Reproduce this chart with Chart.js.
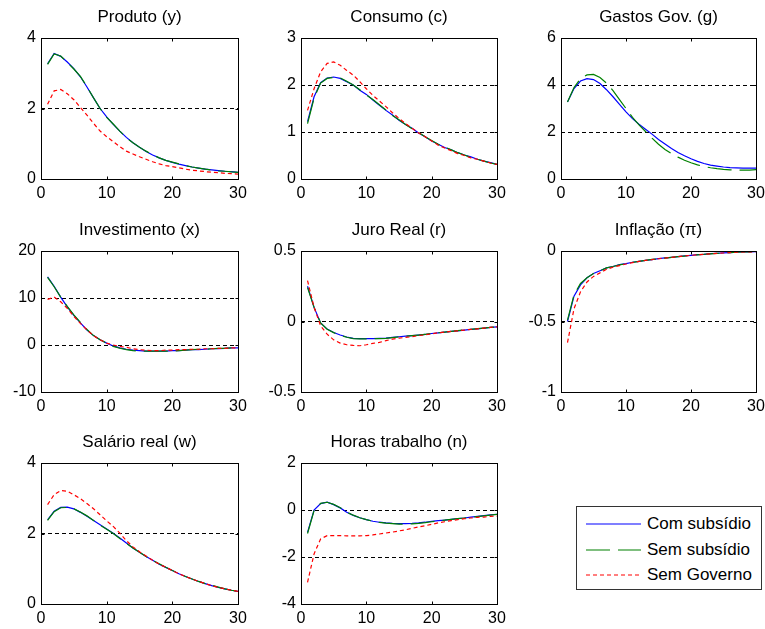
<!DOCTYPE html>
<html>
<head>
<meta charset="utf-8">
<script src="https://cdn.jsdelivr.net/npm/chart.js@4.4.1/dist/chart.umd.min.js"></script>
<style>
  body { margin: 0; background: #fff; width: 765px; height: 629px; position: relative; overflow: hidden;
         font-family: "Liberation Sans", Arial, sans-serif; }
  canvas { position: absolute; }
  #legend { position: absolute; left: 576px; top: 506px; width: 186px; height: 84px;
            border: 1px solid #333; box-sizing: border-box; background: #fff; }
  #legend .row { position: absolute; left: 9px; height: 22px; display: flex; align-items: center;
                 font-size: 17px; color: #000; white-space: nowrap; }
  #legend svg { margin-right: 6px; }
</style>
</head>
<body>
<div id="legend"></div>
<script>
// horizonte (trimestres)
const periods = [1,2,3,4,5,6,7,8,9,10,11,12,13,14,15,16,17,18,19,20,21,22,23,24,25,26,27,28,29,30];

const seriesNames = ["Com subsídio", "Sem subsídio", "Sem Governo"];

// Produto (y)
const produtoCom = [3.27,3.56,3.48,3.32,3.13,2.90,2.61,2.30,2.00,1.76,1.55,1.36,1.18,1.03,0.90,0.78,0.68,0.60,0.53,0.47,0.42,0.38,0.34,0.31,0.28,0.26,0.24,0.22,0.21,0.19];
const produtoSem = [3.25,3.55,3.49,3.31,3.12,2.91,2.62,2.30,2.00,1.75,1.56,1.36,1.17,1.03,0.90,0.79,0.69,0.60,0.53,0.48,0.43,0.38,0.34,0.31,0.28,0.25,0.23,0.22,0.20,0.19];
const produtoSemGov = [2.12,2.50,2.54,2.42,2.25,2.03,1.81,1.58,1.36,1.20,1.06,0.92,0.79,0.71,0.63,0.56,0.49,0.43,0.38,0.35,0.32,0.28,0.25,0.23,0.21,0.19,0.18,0.16,0.15,0.14];

// Consumo (c)
const consumoCom = [1.22,1.75,2.05,2.15,2.17,2.14,2.07,2.00,1.89,1.80,1.68,1.57,1.46,1.36,1.25,1.16,1.08,0.98,0.90,0.81,0.74,0.67,0.62,0.56,0.51,0.47,0.42,0.38,0.35,0.31];
const consumoSem = [1.18,1.72,2.04,2.14,2.16,2.15,2.08,2.00,1.90,1.79,1.69,1.58,1.47,1.35,1.26,1.16,1.07,0.99,0.90,0.82,0.74,0.68,0.62,0.56,0.51,0.46,0.42,0.38,0.34,0.31];
const consumoSemGov = [1.46,1.92,2.28,2.46,2.49,2.42,2.31,2.21,2.07,1.92,1.78,1.66,1.54,1.41,1.29,1.18,1.08,0.98,0.90,0.81,0.72,0.66,0.60,0.54,0.50,0.45,0.42,0.38,0.34,0.31];

// Gastos Gov. (g) - sem governo não há gasto
const gastosCom = [3.28,3.85,4.17,4.27,4.23,4.06,3.80,3.50,3.18,2.86,2.57,2.33,2.12,1.91,1.68,1.49,1.30,1.13,0.99,0.86,0.75,0.66,0.59,0.55,0.51,0.48,0.47,0.46,0.46,0.46];
const gastosSem = [3.28,3.89,4.27,4.43,4.45,4.32,4.08,3.76,3.38,3.00,2.62,2.30,2.02,1.74,1.48,1.26,1.08,0.93,0.80,0.69,0.60,0.53,0.48,0.44,0.41,0.39,0.38,0.38,0.38,0.40];

// Investimento (x)
const investCom = [14.5,12.5,10.2,8.1,6.3,4.7,3.2,2.0,1.1,0.4,-0.2,-0.6,-0.9,-1.1,-1.2,-1.3,-1.3,-1.3,-1.3,-1.2,-1.2,-1.1,-1.0,-1.0,-0.9,-0.8,-0.8,-0.7,-0.6,-0.6];
const investSem = [14.4,12.4,10.2,8.2,6.4,4.8,3.3,2.0,1.1,0.4,-0.3,-0.7,-1.0,-1.2,-1.3,-1.3,-1.3,-1.3,-1.3,-1.3,-1.2,-1.1,-1.0,-0.9,-0.9,-0.8,-0.7,-0.7,-0.6,-0.6];
const investSemGov = [9.7,10.2,9.2,7.8,6.1,4.6,3.2,2.0,1.1,0.4,0.0,-0.3,-0.5,-0.8,-1.0,-1.1,-1.2,-1.2,-1.1,-1.1,-1.0,-1.0,-0.9,-0.9,-0.8,-0.8,-0.7,-0.7,-0.6,-0.6];

// Juro Real (r)
const juroCom = [0.25,0.10,-0.01,-0.054,-0.078,-0.096,-0.11,-0.12,-0.122,-0.122,-0.122,-0.12,-0.118,-0.113,-0.108,-0.104,-0.10,-0.096,-0.092,-0.085,-0.08,-0.075,-0.07,-0.066,-0.061,-0.056,-0.052,-0.047,-0.042,-0.038];
const juroSem = [0.24,0.10,-0.01,-0.055,-0.079,-0.097,-0.112,-0.121,-0.123,-0.123,-0.122,-0.121,-0.119,-0.114,-0.109,-0.104,-0.10,-0.096,-0.091,-0.085,-0.08,-0.075,-0.07,-0.065,-0.06,-0.056,-0.051,-0.047,-0.042,-0.038];
const juroSemGov = [0.29,0.10,-0.03,-0.09,-0.13,-0.153,-0.165,-0.17,-0.172,-0.165,-0.155,-0.148,-0.136,-0.125,-0.118,-0.113,-0.108,-0.10,-0.094,-0.087,-0.08,-0.075,-0.07,-0.066,-0.061,-0.056,-0.052,-0.047,-0.042,-0.038];

// Inflação (pi)
const inflCom = [-0.50,-0.32,-0.24,-0.19,-0.16,-0.14,-0.12,-0.11,-0.097,-0.09,-0.08,-0.073,-0.066,-0.061,-0.054,-0.049,-0.045,-0.04,-0.035,-0.031,-0.026,-0.024,-0.019,-0.016,-0.014,-0.012,-0.009,-0.007,-0.007,-0.005];
const inflSem = [-0.49,-0.31,-0.23,-0.19,-0.16,-0.14,-0.12,-0.11,-0.098,-0.09,-0.081,-0.073,-0.067,-0.06,-0.055,-0.05,-0.045,-0.04,-0.036,-0.031,-0.027,-0.023,-0.02,-0.017,-0.014,-0.011,-0.009,-0.007,-0.006,-0.005];
const inflSemGov = [-0.65,-0.41,-0.29,-0.22,-0.18,-0.155,-0.13,-0.115,-0.104,-0.092,-0.082,-0.074,-0.067,-0.061,-0.055,-0.05,-0.045,-0.04,-0.035,-0.031,-0.027,-0.024,-0.02,-0.017,-0.014,-0.011,-0.009,-0.007,-0.006,-0.005];

// Salário real (w)
const salarioCom = [2.39,2.63,2.74,2.75,2.70,2.60,2.49,2.37,2.25,2.13,2.01,1.87,1.73,1.59,1.47,1.35,1.24,1.13,1.04,0.95,0.86,0.78,0.71,0.64,0.58,0.52,0.47,0.43,0.39,0.36];
const salarioSem = [2.37,2.62,2.73,2.74,2.70,2.61,2.50,2.37,2.24,2.12,2.00,1.86,1.72,1.59,1.47,1.35,1.24,1.14,1.04,0.95,0.87,0.78,0.71,0.64,0.58,0.53,0.48,0.43,0.39,0.36];
const salarioSemGov = [2.82,3.10,3.22,3.20,3.10,2.99,2.85,2.70,2.53,2.36,2.20,2.01,1.80,1.62,1.48,1.36,1.24,1.13,1.04,0.95,0.86,0.78,0.71,0.64,0.58,0.52,0.47,0.43,0.39,0.36];

// Horas trabalho (n)
const horasCom = [-0.95,0.0,0.27,0.33,0.23,0.09,-0.10,-0.23,-0.33,-0.41,-0.48,-0.52,-0.55,-0.57,-0.58,-0.58,-0.57,-0.55,-0.52,-0.48,-0.45,-0.43,-0.40,-0.37,-0.34,-0.30,-0.27,-0.24,-0.21,-0.18];
const horasSem = [-1.0,-0.02,0.28,0.33,0.24,0.10,-0.09,-0.22,-0.33,-0.41,-0.48,-0.53,-0.56,-0.58,-0.60,-0.60,-0.59,-0.57,-0.54,-0.50,-0.46,-0.43,-0.40,-0.37,-0.34,-0.31,-0.28,-0.25,-0.22,-0.19];
const horasSemGov = [-3.08,-1.87,-1.23,-1.09,-1.09,-1.09,-1.10,-1.10,-1.10,-1.09,-1.06,-1.02,-0.98,-0.94,-0.89,-0.84,-0.78,-0.72,-0.67,-0.61,-0.55,-0.50,-0.45,-0.41,-0.37,-0.34,-0.31,-0.30,-0.27,-0.26];

// painéis: título, limites do eixo y e passo
const titles = ["Produto (y)", "Consumo (c)", "Gastos Gov. (g)", "Investimento (x)", "Juro Real (r)", "Inflação (π)", "Salário real (w)", "Horas trabalho (n)"];
const yMins = [0, 0, 0, -10, -0.5, -1, 0, -4];
const yMaxs = [4, 3, 6, 20, 0.5, 0, 4, 2];
const ySteps = [2, 1, 2, 10, 0.5, 0.5, 2, 2];
const panelSeries = [
  [produtoCom, produtoSem, produtoSemGov],
  [consumoCom, consumoSem, consumoSemGov],
  [gastosCom, gastosSem, null],
  [investCom, investSem, investSemGov],
  [juroCom, juroSem, juroSemGov],
  [inflCom, inflSem, inflSemGov],
  [salarioCom, salarioSem, salarioSemGov],
  [horasCom, horasSem, horasSemGov],
];

// estilo das linhas (azul sólido, verde tracejado, vermelho pontilhado)
const lineColors = ["#0000ff", "#008000", "#ff0000"];
const lineDashes = [[], [24, 8], [4, 3]];

// grade 3x3 de subplots
const colLeft = [41, 301, 561];
const colWidth = [197, 196, 195];
const rowTop = [38, 251, 463];
const plotH = 141;
const padL = 41, padT = 38, padR = 10, padB = 28;

const FONT = "'Liberation Sans', Arial, sans-serif";

// caixa fechada e marcas de tick para dentro, estilo MATLAB
function makeFrame() {
  return {
    id: "frame",
    afterDraw(chart) {
      const { ctx, chartArea: a } = chart;
      const x = chart.scales.x, y = chart.scales.y;
      const L = Math.round(a.left) + 0.5, R = Math.round(a.right) + 0.5;
      const T = Math.round(a.top) + 0.5, B = Math.round(a.bottom) + 0.5;
      ctx.save();
      ctx.setLineDash([]);
      ctx.strokeStyle = "#000";
      ctx.lineWidth = 1;
      ctx.strokeRect(L, T, R - L, B - T);
      ctx.beginPath();
      x.ticks.forEach(t => {
        const tx = Math.round(x.getPixelForValue(t.value)) + 0.5;
        ctx.moveTo(tx, B); ctx.lineTo(tx, B - 3);
        ctx.moveTo(tx, T); ctx.lineTo(tx, T + 3);
      });
      y.ticks.forEach(t => {
        const ty = Math.round(y.getPixelForValue(t.value)) + 0.5;
        ctx.moveTo(L, ty); ctx.lineTo(L + 3, ty);
        ctx.moveTo(R, ty); ctx.lineTo(R - 3, ty);
      });
      ctx.stroke();
      ctx.restore();
    }
  };
}

function toPoints(vals) {
  return periods.map((t, i) => ({ x: t, y: vals[i] }));
}

function fmtTick(v) {
  return String(Math.round(v * 100) / 100);
}

titles.forEach((title, p) => {
  const col = p % 3, row = Math.floor(p / 3);
  const canvas = document.createElement("canvas");
  const w = padL + colWidth[col] + padR, h = padT + plotH + padB;
  canvas.width = w; canvas.height = h;
  canvas.style.left = (colLeft[col] - padL) + "px";
  canvas.style.top = (rowTop[row] - padT) + "px";
  canvas.style.width = w + "px"; canvas.style.height = h + "px";
  document.body.appendChild(canvas);

  const datasets = [];
  panelSeries[p].forEach((vals, s) => {
    if (!vals) return;
    datasets.push({
      label: seriesNames[s],
      data: toPoints(vals),
      borderColor: lineColors[s],
      borderWidth: 1.2,
      borderDash: lineDashes[s],
      pointRadius: 0,
      tension: 0,
      order: 2 - s,
    });
  });

  new Chart(canvas.getContext("2d"), {
    type: "line",
    data: { datasets },
    options: {
      responsive: false,
      animation: false,
      layout: { autoPadding: false, padding: { left: 0, right: padR, top: 0, bottom: 0 } },
      plugins: {
        legend: { display: false },
        tooltip: { enabled: false },
        title: {
          display: true,
          fullSize: false,
          text: title,
          color: "#000",
          font: { family: FONT, size: 17, weight: "normal", lineHeight: 1.2 },
          padding: { top: 7, bottom: padT - 7 - 20.4 },
        },
      },
      scales: {
        x: {
          type: "linear",
          min: 0, max: 30,
          ticks: { stepSize: 10, padding: -3, color: "#000", font: { family: FONT, size: 16 } },
          grid: { display: false },
          border: { display: false },
          afterFit: s => { s.height = padB; },
        },
        y: {
          min: yMins[p], max: yMaxs[p],
          ticks: { stepSize: ySteps[p], padding: 5, color: "#000", font: { family: FONT, size: 16 }, callback: fmtTick },
          grid: { color: "#000", lineWidth: 1, drawTicks: false },
          border: { display: false, dash: [4, 3] },
          afterFit: s => { s.width = padL; },
        },
      },
    },
    plugins: [makeFrame()],
  });
});

// legenda em caixa no canto inferior direito
const legend = document.getElementById("legend");
seriesNames.forEach((name, s) => {
  const row = document.createElement("div");
  row.className = "row";
  row.style.top = (6 + s * 25.5) + "px";
  row.innerHTML =
    '<svg width="55" height="4"><line x1="0" y1="2" x2="55" y2="2" stroke="' + lineColors[s] +
    '" stroke-width="1.2" stroke-dasharray="' + (lineDashes[s].join(",") || "none") + '"/></svg>' +
    "<span>" + name + "</span>";
  legend.appendChild(row);
});
</script>
</body>
</html>
